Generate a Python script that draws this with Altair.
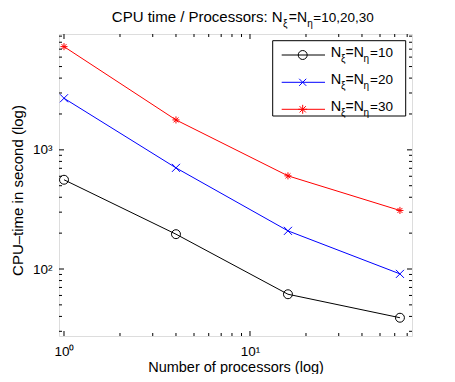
import altair as alt
import pandas as pd

# ---- data ----
procs = [1, 4, 16, 64]
t10 = [561, 196, 61.4, 39]
t20 = [2711, 706, 209, 91]
t30 = [7350, 1783, 605, 310]
series_names = ["10", "20", "30"]
series_colors = ["#000000", "#0000ff", "#ff0000"]

x_major = [1, 10]
x_minor = [2, 3, 4, 5, 6, 7, 8, 9, 20, 30, 40, 50, 60, 70]
y_major = [100, 1000]
y_minor = [30, 40, 50, 60, 70, 80, 90, 200, 300, 400, 500, 600, 700, 800, 900,
           2000, 3000, 4000, 5000, 6000, 7000, 8000, 9000]

FONT = "Liberation Sans"
W, H = 353, 302
OX, OY = 59, 34  # absolute page position of plot origin

rows = []
for name, vals in zip(series_names, [t10, t20, t30]):
    for p, v in zip(procs, vals):
        rows.append({"proc": p, "time": v, "series": name})
df = pd.DataFrame(rows)

xscale = alt.Scale(type="log", domain=[0.94, 74.3], nice=False)
yscale = alt.Scale(type="log", domain=[27.4, 9380], nice=False)

circle = "circle"
xmark = "M-1,-1L1,1M1,-1L-1,1"
star = "M0,-1L0,1M-1,0L1,0M-0.7,-0.7L0.7,0.7M-0.7,0.7L0.7,-0.7"
shapes = [circle, xmark, star]
sizes = [80, 50, 80]

lab_expr = ("'10' + (datum.value == 1 ? '⁰' : datum.value == 10 ? '¹' : "
            "datum.value == 100 ? '²' : '³')")

color = alt.Color("series:N", scale=alt.Scale(domain=series_names, range=series_colors), legend=None)

lines = alt.Chart(df).mark_line(strokeWidth=1, clip=True).encode(
    x=alt.X("proc:Q", scale=xscale,
            axis=alt.Axis(values=x_major, labelExpr=lab_expr, ticks=False, tickSize=0,
                          domain=False, grid=False, labelFont=FONT, labelFontSize=13.5,
                          labelColor="black", labelPadding=19.5, labelBaseline="alphabetic",
                          title="Number of processors (log)", titleFont=FONT,
                          titleFontSize=14.5, titleFontWeight="normal", titleColor="black",
                          titleX=W / 2, titleY=35.5, titleBaseline="alphabetic",
                          titleAlign="center")),
    y=alt.Y("time:Q", scale=yscale,
            axis=alt.Axis(values=y_major, labelExpr=lab_expr, ticks=False, tickSize=0,
                          domain=False, grid=False, labelFont=FONT, labelFontSize=13.5,
                          labelColor="black", labelPadding=7,
                          title="CPU–time in second (log)", titleFont=FONT,
                          titleFontSize=15, titleFontWeight="normal", titleColor="black",
                          titleX=22 - OX, titleY=190 - OY, titleAngle=270,
                          titleBaseline="alphabetic", titleAlign="center")),
    color=color,
    detail="series:N",
)

points = alt.Chart(df).mark_point(filled=False, strokeWidth=1, opacity=1).encode(
    x=alt.X("proc:Q", scale=xscale),
    y=alt.Y("time:Q", scale=yscale),
    color=color,
    shape=alt.Shape("series:N", scale=alt.Scale(domain=series_names, range=shapes), legend=None),
    size=alt.Size("series:N", scale=alt.Scale(domain=series_names, range=sizes), legend=None),
)

# inward ticks on all four sides
def xticks(vals, length):
    d = pd.DataFrame({"v": vals})
    b = alt.Chart(d).mark_rule(color="black", strokeWidth=1)
    bottom = b.encode(x=alt.X("v:Q", scale=xscale), y=alt.value(H), y2=alt.value(H - length))
    top = b.encode(x=alt.X("v:Q", scale=xscale), y=alt.value(0), y2=alt.value(length))
    return [bottom, top]

def yticks(vals, length):
    d = pd.DataFrame({"v": vals})
    b = alt.Chart(d).mark_rule(color="black", strokeWidth=1)
    left = b.encode(y=alt.Y("v:Q", scale=yscale), x=alt.value(0), x2=alt.value(length))
    right = b.encode(y=alt.Y("v:Q", scale=yscale), x=alt.value(W), x2=alt.value(W - length))
    return [left, right]

tick_layers = xticks(x_major, 5) + xticks(x_minor, 3) + yticks(y_major, 5) + yticks(y_minor, 3)

one = pd.DataFrame({"k": [0]})

def txt(s, x, y, size, align="left"):
    return alt.Chart(one).mark_text(text=s, font=FONT, fontSize=size, align=align,
                                    baseline="alphabetic", color="black").encode(
        x=alt.value(x - OX), y=alt.value(y - OY))

# title with subscripts
TB = 21.5
title_layers = [
    txt("CPU time / Processors: N", 282.7, TB, 15, "right"),
    txt("ξ", 283.0, TB + 5, 10),
    txt("=N", 288.8, TB, 14),
    txt("η", 307.3, TB + 5, 10),
    txt("=10,20,30", 313.3, TB, 13.5),
]

# legend
legend_layers = [
    alt.Chart(one).mark_rect(fill="white", stroke="black", strokeWidth=1).encode(
        x=alt.value(272.7 - OX), x2=alt.value(405.7 - OX),
        y=alt.value(40.7 - OY), y2=alt.value(116 - OY))
]
row_y = [55, 82.3, 109.3]
for name, col, shp, sz, r in zip(series_names, series_colors, shapes, sizes, row_y):
    legend_layers.append(
        alt.Chart(one).mark_rule(color=col, strokeWidth=1).encode(
            x=alt.value(281.7 - OX), x2=alt.value(325 - OX), y=alt.value(r - OY)))
    legend_layers.append(
        alt.Chart(one).mark_point(shape=shp, size=sz, filled=False, color=col,
                                  strokeWidth=1, opacity=1).encode(
            x=alt.value(302.7 - OX), y=alt.value(r - OY)))
    legend_layers += [
        txt("N", 330.7, r + 1.8, 14.5),
        txt("ξ", 340.9, r + 6.5, 10),
        txt("=N", 345.5, r + 1.8, 14),
        txt("η", 363.5, r + 6.5, 10),
        txt("=" + name, 370, r + 1.8, 13.5),
    ]

chart = alt.layer(
    lines, points, *tick_layers, *legend_layers, *title_layers
).properties(
    width=W, height=H,
    autosize=alt.AutoSizeParams(type="none"),
    padding={"left": 51, "top": 26, "right": 35, "bottom": 38},
).configure_view(
    stroke="black", strokeWidth=1
).configure(background="white")

chart.save("out.html", embed_options={"renderer": "svg", "actions": False})
